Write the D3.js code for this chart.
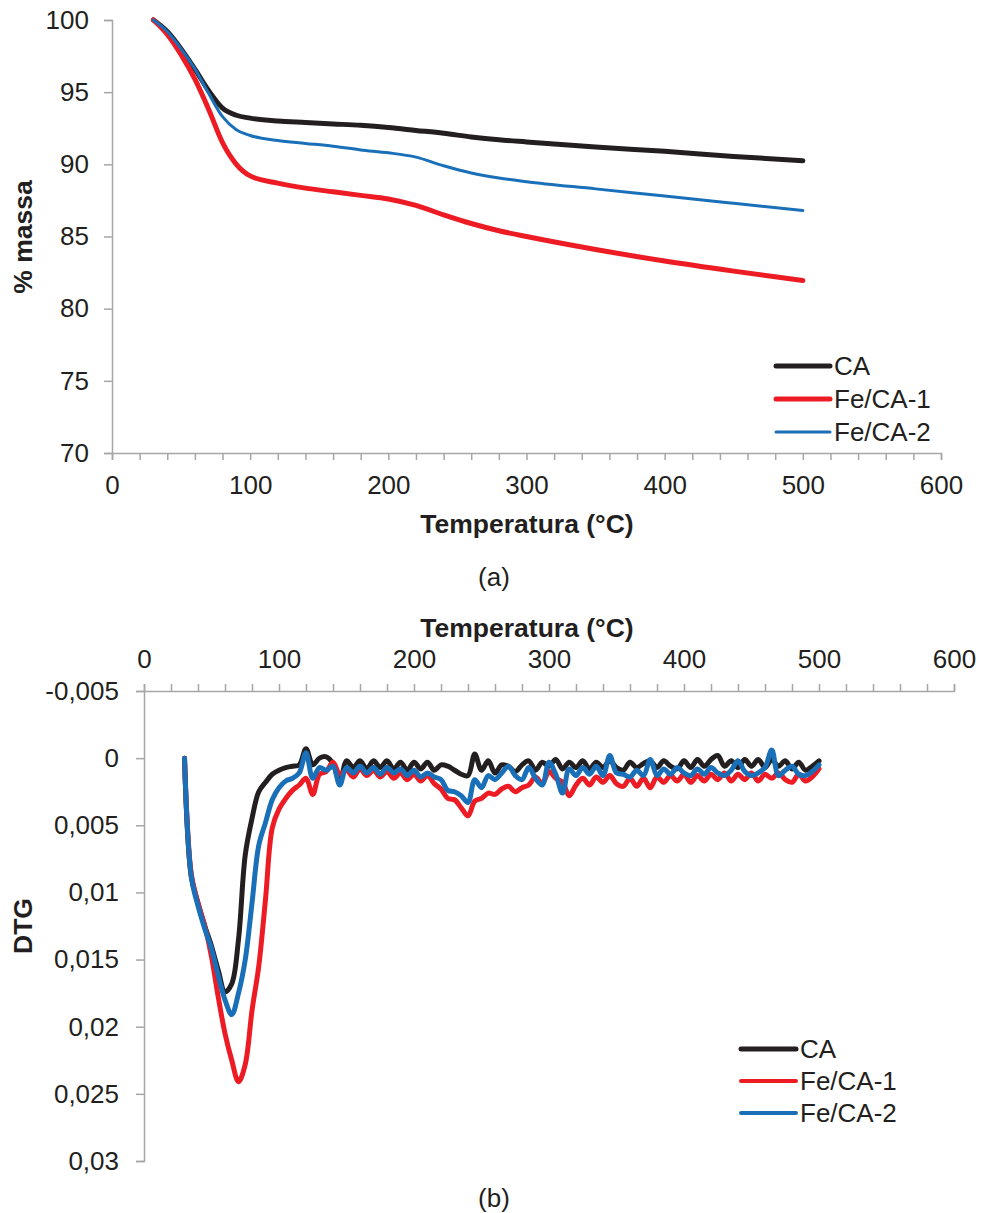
<!DOCTYPE html>
<html>
<head>
<meta charset="utf-8">
<script src="https://cdn.jsdelivr.net/npm/d3@7"></script>
<style>
  body { margin: 0; background: #fff; }
  svg text { font-family: "Liberation Sans", Arial, sans-serif; fill: #231f20; }
</style>
</head>
<body>
<div id="chart"></div>
<script>
// TG data (% massa)
var tgTemp = [30, 40, 50, 60, 70, 80, 90, 100, 120, 140, 160, 180, 200, 220, 240, 260, 280, 300, 350, 400, 450, 500];
var tgCA   = [100, 99.2, 98.0, 96.6, 95.1, 93.9, 93.4, 93.2, 93.0, 92.9, 92.8, 92.7, 92.55, 92.35, 92.15, 91.9, 91.7, 91.55, 91.2, 90.9, 90.55, 90.25];
var tgFe1  = [100, 99.0, 97.6, 95.9, 93.8, 91.5, 90.0, 89.2, 88.7, 88.35, 88.1, 87.85, 87.6, 87.15, 86.5, 85.9, 85.4, 85.0, 84.1, 83.3, 82.6, 81.95];
var tgFe2  = [100, 99.2, 98.0, 96.6, 94.9, 93.3, 92.4, 92.0, 91.65, 91.45, 91.25, 91.0, 90.8, 90.5, 89.9, 89.4, 89.05, 88.8, 88.3, 87.8, 87.3, 86.8];

// DTG data, every 5 °C from 30 to 500
var dtgTemp = d3.range(30, 501, 5);
var dtgCA = [0, 0.0088, 0.0108, 0.0125, 0.0140, 0.0158, 0.0174, 0.0168, 0.0135, 0.0072,
  0.0045, 0.0025, 0.0018, 0.0012, 0.0009, 0.0007, 0.0006, 0.0005, -0.0007, 0.0005,
  0.0000, -0.0001, 0.0004, 0.0018, 0.0002, 0.0007, 0.0002, 0.0008, 0.0002, 0.0007,
  0.0002, 0.0008, 0.0003, 0.0009, 0.0003, 0.0008, 0.0003, 0.0009, 0.0005, 0.0006,
  0.0009, 0.0012, 0.0013, -0.0003, 0.0009, 0.0002, 0.0011, 0.0005, 0.0006, 0.0010,
  0.0005, 0.0002, 0.0009, 0.0003, 0.0006, 0.0001, 0.0008, 0.0003, 0.0007, 0.0002,
  0.0008, 0.0003, 0.0007, 0.0002, 0.0007, 0.0009, 0.0003, 0.0007, 0.0004, 0.0002,
  0.0007, 0.0002, 0.0006, 0.0008, 0.0002, 0.0007, 0.0001, 0.0006, 0.0001, -0.0002,
  0.0006, 0.0002, 0.0007, 0.0001, 0.0006, 0.0001, 0.0007, 0.0001, 0.0006, 0.0002,
  0.0008, 0.0003, 0.0009, 0.0006, 0.0002];
var dtgFe1 = [0, 0.0086, 0.0108, 0.0125, 0.0148, 0.0178, 0.0205, 0.0225, 0.0241, 0.0228,
  0.0188, 0.0155, 0.0105, 0.0052, 0.0038, 0.0030, 0.0024, 0.0020, 0.0015, 0.0027,
  0.0012, 0.0010, 0.0003, 0.0012, 0.0009, 0.0014, 0.0008, 0.0013, 0.0009, 0.0014,
  0.0010, 0.0015, 0.0011, 0.0016, 0.0012, 0.0017, 0.0013, 0.0019, 0.0023, 0.0030,
  0.0031, 0.0037, 0.0043, 0.0032, 0.0030, 0.0026, 0.0027, 0.0023, 0.0021, 0.0025,
  0.0022, 0.0020, 0.0014, 0.0019, 0.0010, 0.0015, 0.0018, 0.0028, 0.0020, 0.0015,
  0.0020, 0.0014, 0.0018, 0.0013, 0.0019, 0.0021, 0.0015, 0.0021, 0.0015, 0.0022,
  0.0014, 0.0018, 0.0013, 0.0017, 0.0012, 0.0018, 0.0013, 0.0017, 0.0012, 0.0016,
  0.0011, 0.0017, 0.0012, 0.0016, 0.0011, 0.0017, 0.0012, 0.0015, 0.0011, 0.0016,
  0.0018, 0.0012, 0.0017, 0.0014, 0.0008];
var dtgFe2 = [0, 0.0088, 0.0110, 0.0127, 0.0142, 0.0162, 0.0180, 0.0191, 0.0175, 0.0150,
  0.0108, 0.0065, 0.0048, 0.0031, 0.0022, 0.0017, 0.0015, 0.0011, -0.0004, 0.0015,
  0.0007, 0.0009, 0.0006, 0.0020, 0.0007, 0.0011, 0.0006, 0.0011, 0.0007, 0.0012,
  0.0007, 0.0011, 0.0008, 0.0013, 0.0009, 0.0014, 0.0011, 0.0014, 0.0016, 0.0024,
  0.0025, 0.0028, 0.0033, 0.0016, 0.0022, 0.0013, 0.0016, 0.0011, 0.0006, 0.0013,
  0.0016, 0.0007, 0.0015, 0.0020, 0.0003, 0.0012, 0.0026, 0.0008, 0.0013, 0.0007,
  0.0012, 0.0006, 0.0013, -0.0002, 0.0011, 0.0012, 0.0014, 0.0009, 0.0013, 0.0001,
  0.0013, 0.0008, 0.0012, 0.0007, 0.0011, 0.0013, 0.0008, 0.0012, 0.0007, 0.0011,
  0.0013, 0.0009, 0.0002, 0.0010, 0.0013, 0.0011, 0.0007, -0.0006, 0.0013, 0.0009,
  0.0006, 0.0012, 0.0013, 0.0010, 0.0005];

var seriesNames = ["CA", "Fe/CA-1", "Fe/CA-2"];
var colors = ["#231f20", "#ed1c24", "#1a6fb9"];
var xTickLabels = [0, 100, 200, 300, 400, 500, 600];
var tgTicks = [70, 75, 80, 85, 90, 95, 100];
var dtgTicks = [-0.005, 0, 0.005, 0.01, 0.015, 0.02, 0.025, 0.03];

var axisColor = "#a6a6a6";
var fontSize = 26;
var titleSize = 26.5;

var svg = d3.select("#chart").append("svg")
  .attr("width", 981)
  .attr("height", 1213);

// ---------- (a) TG ----------
var xa = d3.scaleLinear().domain([0, 600]).range([112, 941]);
var ya = d3.scaleLinear().domain([70, 100]).range([453, 20]);

var gA = svg.append("g");

var xAxisA = d3.axisBottom(xa)
  .tickValues(d3.range(0, 601, 20))
  .tickSize(7)
  .tickFormat(function (d) { return xTickLabels.indexOf(d) >= 0 ? d : ""; });
gA.append("g")
  .attr("transform", "translate(0," + ya(70) + ")")
  .call(xAxisA)
  .call(styleAxis)
  .selectAll("text").attr("dy", "1.2em");

var yAxisA = d3.axisLeft(ya).tickValues(tgTicks).tickSize(8).tickPadding(15);
gA.append("g")
  .attr("transform", "translate(" + xa(0) + ",0)")
  .call(yAxisA)
  .call(styleAxis);

var tgSeries = [tgCA, tgFe1, tgFe2];
var tgWidths = [5, 5, 3];
var lineA = d3.line()
  .x(function (d) { return xa(d[0]); })
  .y(function (d) { return ya(d[1]); })
  .curve(d3.curveMonotoneX);

tgSeries.forEach(function (vals, i) {
  gA.append("path")
    .datum(tgTemp.map(function (t, j) { return [t, vals[j]]; }))
    .attr("fill", "none")
    .attr("stroke", colors[i])
    .attr("stroke-width", tgWidths[i])
    .attr("stroke-linejoin", "round")
    .attr("stroke-linecap", "round")
    .attr("d", lineA);
});

gA.append("text")
  .attr("x", 527).attr("y", 533)
  .attr("text-anchor", "middle")
  .style("font-size", titleSize + "px").style("font-weight", "bold")
  .text("Temperatura (°C)");

gA.append("text")
  .attr("transform", "translate(32,237) rotate(-90)")
  .attr("text-anchor", "middle")
  .style("font-size", titleSize + "px").style("font-weight", "bold")
  .text("% massa");

gA.append("text")
  .attr("x", 494).attr("y", 586)
  .attr("text-anchor", "middle")
  .style("font-size", fontSize + "px")
  .text("(a)");

drawLegend(gA, 776, 830, [366, 399, 432], tgWidths);

// ---------- (b) DTG ----------
var xb = d3.scaleLinear().domain([0, 600]).range([144, 954]);
var yb = d3.scaleLinear().domain([-0.005, 0.03]).range([691, 1161]);

var gB = svg.append("g");

var xAxisB = d3.axisTop(xb)
  .tickValues(d3.range(0, 601, 20))
  .tickSize(7)
  .tickPadding(16)
  .tickFormat(function (d) { return xTickLabels.indexOf(d) >= 0 ? d : ""; });
gB.append("g")
  .attr("transform", "translate(0," + yb(-0.005) + ")")
  .call(xAxisB)
  .call(styleAxis);

var yAxisB = d3.axisLeft(yb).tickValues(dtgTicks).tickSize(8).tickPadding(17)
  .tickFormat(function (d) { return String(+d.toFixed(3)).replace(".", ","); });
gB.append("g")
  .attr("transform", "translate(" + xb(0) + ",0)")
  .call(yAxisB)
  .call(styleAxis);

var dtgSeries = [dtgCA, dtgFe1, dtgFe2];
var lineB = d3.line()
  .x(function (d) { return xb(d[0]); })
  .y(function (d) { return yb(d[1]); })
  .curve(d3.curveCatmullRom.alpha(0.5));

dtgSeries.forEach(function (vals, i) {
  gB.append("path")
    .datum(dtgTemp.map(function (t, j) { return [t, vals[j]]; }))
    .attr("fill", "none")
    .attr("stroke", colors[i])
    .attr("stroke-width", 5)
    .attr("stroke-linejoin", "round")
    .attr("stroke-linecap", "round")
    .attr("d", lineB);
});

gB.append("text")
  .attr("x", 527).attr("y", 637)
  .attr("text-anchor", "middle")
  .style("font-size", titleSize + "px").style("font-weight", "bold")
  .text("Temperatura (°C)");

gB.append("text")
  .attr("transform", "translate(32,926) rotate(-90)")
  .attr("text-anchor", "middle")
  .style("font-size", titleSize + "px").style("font-weight", "bold")
  .text("DTG");

gB.append("text")
  .attr("x", 494).attr("y", 1207)
  .attr("text-anchor", "middle")
  .style("font-size", fontSize + "px")
  .text("(b)");

drawLegend(gB, 741, 796, [1049, 1081, 1113], [5, 4, 4]);

function styleAxis(g) {
  g.select(".domain").attr("stroke", axisColor).attr("stroke-width", 1.5);
  g.selectAll(".tick line").attr("stroke", axisColor).attr("stroke-width", 1.5);
  g.selectAll(".tick text")
    .style("font-size", fontSize + "px")
    .style("font-family", "'Liberation Sans', Arial, sans-serif")
    .attr("fill", "#231f20");
}

function drawLegend(g, x1, x2, ys, widths) {
  seriesNames.forEach(function (name, i) {
    g.append("line")
      .attr("x1", x1).attr("x2", x2)
      .attr("y1", ys[i]).attr("y2", ys[i])
      .attr("stroke", colors[i])
      .attr("stroke-width", widths[i])
      .attr("stroke-linecap", "round");
    g.append("text")
      .attr("x", x2 + 4).attr("y", ys[i])
      .attr("dy", "0.35em")
      .style("font-size", fontSize + "px")
      .text(name);
  });
}
</script>
</body>
</html>
